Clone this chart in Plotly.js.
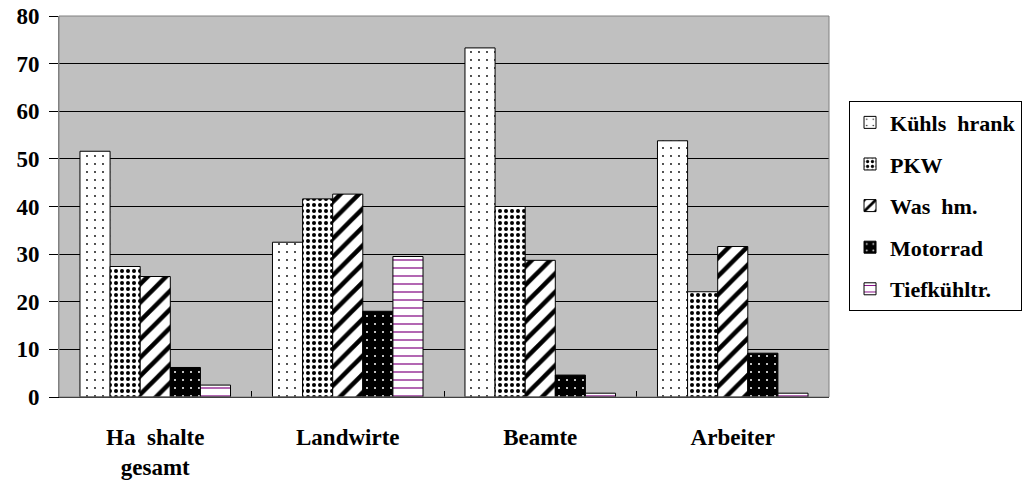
<!DOCTYPE html>
<html>
<head>
<meta charset="utf-8">
<script src="https://cdn.plot.ly/plotly-3.0.1.min.js"></script>
<style>
  html, body { margin: 0; padding: 0; background: #fff; }
  #chart { width: 1034px; height: 483px; }
</style>
</head>
<body>
<div id="chart"></div>
<script>
const categories = ['Ha  shalte<br>gesamt', 'Landwirte', 'Beamte', 'Arbeiter'];
const seriesNames = ['Kühls  hrank', 'PKW', 'Was  hm.', 'Motorrad', 'Tiefkühltr.'];
const kuehlschrank = [51.6, 32.5, 73.3, 53.8];
const pkw = [27.4, 41.6, 40.0, 22.1];
const waschmaschine = [25.3, 42.6, 28.7, 31.6];
const motorrad = [6.2, 18.0, 4.6, 9.2];
const tiefkuehltruhe = [2.5, 29.5, 0.8, 0.8];
const yTicks = [0, 10, 20, 30, 40, 50, 60, 70, 80];

const seriesValues = [kuehlschrank, pkw, waschmaschine, motorrad, tiefkuehltruhe];
const patterns = [
  {shape: '.', bgcolor: '#ffffff', fgcolor: '#000000', size: 8, solidity: 0.04},
  {shape: '.', bgcolor: '#ffffff', fgcolor: '#000000', size: 6, solidity: 0.35},
  {shape: '/', bgcolor: '#ffffff', fgcolor: '#000000', size: 13, solidity: 0.35},
  {shape: '.', bgcolor: '#000000', fgcolor: '#ffffff', size: 8, solidity: 0.05},
  {shape: '-', bgcolor: '#ffffff', fgcolor: '#800080', size: 8, solidity: 0.15}
];
const baseColors = ['#ffffff', '#ffffff', '#ffffff', '#000000', '#ffffff'];

const traces = seriesValues.map((vals, i) => ({
  type: 'bar',
  name: seriesNames[i],
  x: categories,
  y: vals,
  legendgroup: 'g' + i,
  marker: {
    color: baseColors[i],
    line: {color: '#000000', width: 1},
    pattern: Object.assign({fillmode: 'replace'}, patterns[i])
  },
  hoverinfo: 'x+y+name'
}));

const font = 'Liberation Serif';

const layout = {
  width: 1034,
  height: 483,
  margin: {l: 59, r: 202, t: 16, b: 86},
  paper_bgcolor: '#ffffff',
  plot_bgcolor: '#c0c0c0',
  barmode: 'group',
  bargap: 0.218,
  bargroupgap: 0,
  showlegend: true,
  font: {family: font, color: '#000000'},
  legend: {
    x: 1.026, xanchor: 'left',
    y: 0.778, yanchor: 'top',
    bgcolor: '#ffffff',
    bordercolor: '#000000',
    borderwidth: 1,
    traceorder: 'grouped',
    tracegroupgap: 10,
    font: {family: font, size: 22, color: '#000000', weight: 'bold'}
  },
  xaxis: {
    type: 'category',
    showgrid: false,
    showline: true,
    linecolor: '#000000',
    linewidth: 1,
    ticks: 'inside',
    tickson: 'boundaries',
    ticklen: 6,
    tickcolor: '#000000',
    ticklabelstandoff: 19,
    tickfont: {family: font, size: 23, color: '#000000', weight: 'bold'},
    zeroline: false
  },
  yaxis: {
    range: [0, 80],
    tickvals: yTicks,
    ticktext: yTicks.map(String),
    showgrid: true,
    gridcolor: '#000000',
    gridwidth: 1,
    showline: true,
    linecolor: '#808080',
    linewidth: 1,
    ticks: 'outside',
    ticklen: 9,
    tickcolor: '#000000',
    ticklabelstandoff: 5,
    tickfont: {family: font, size: 23, color: '#000000', weight: 'bold'},
    zeroline: false
  },
  shapes: [
    {type: 'rect', xref: 'paper', yref: 'paper', x0: 0, x1: 1, y0: 0, y1: 1,
     line: {color: '#808080', width: 1}, fillcolor: 'rgba(0,0,0,0)', layer: 'above'}
  ]
};

Plotly.newPlot('chart', traces, layout, {displayModeBar: false, staticPlot: true});
</script>
</body>
</html>
